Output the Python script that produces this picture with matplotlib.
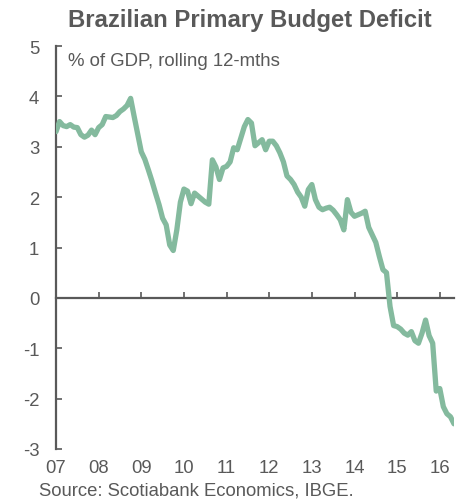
import matplotlib
matplotlib.use("Agg")
import matplotlib.pyplot as plt
import numpy as np

# Monthly primary budget balance (% of GDP, rolling 12 months), Jan 2007 - May 2016
deficit = [
    3.30, 3.50, 3.42, 3.40, 3.44, 3.39, 3.38, 3.24, 3.19, 3.23, 3.33, 3.24,   # 2007
    3.38, 3.44, 3.60, 3.59, 3.58, 3.62, 3.70, 3.75, 3.82, 3.96, 3.60, 3.25,   # 2008
    2.90, 2.75, 2.54, 2.32, 2.08, 1.85, 1.58, 1.45, 1.05, 0.94, 1.35, 1.90,   # 2009
    2.16, 2.12, 1.87, 2.08, 2.02, 1.96, 1.90, 1.86, 2.74, 2.60, 2.35, 2.58,   # 2010
    2.61, 2.70, 2.98, 2.94, 3.17, 3.40, 3.54, 3.47, 3.02, 3.08, 3.14, 2.94,   # 2011
    3.11, 3.11, 3.02, 2.88, 2.70, 2.42, 2.35, 2.25, 2.10, 2.00, 1.82, 2.15,   # 2012
    2.25, 1.95, 1.80, 1.75, 1.78, 1.80, 1.74, 1.65, 1.55, 1.35, 1.95, 1.70,   # 2013
    1.62, 1.65, 1.68, 1.72, 1.40, 1.25, 1.10, 0.82, 0.56, 0.50, -0.17, -0.55, # 2014
    -0.57, -0.62, -0.70, -0.74, -0.67, -0.85, -0.90, -0.70, -0.44, -0.75, -0.90, -1.85,  # 2015
    -1.80, -2.16, -2.30, -2.36, -2.50,                                          # 2016
]
year_labels = ["07", "08", "09", "10", "11", "12", "13", "14", "15", "16"]
y_ticks = [-3, -2, -1, 0, 1, 2, 3, 4, 5]

title = "Brazilian Primary Budget Deficit"
subtitle = "% of GDP, rolling 12-mths"
source = "Source: Scotiabank Economics, IBGE."

plt.rcParams['font.family'] = ['Liberation Sans', 'DejaVu Sans']
grey = "#595959"
line_col = "#84BA9E"

fig = plt.figure(figsize=(4.66, 5.02), dpi=100)
ax = fig.add_axes([56/466, 1-450/502, (454-56)/466, (450-47)/502])

months = np.arange(len(deficit))
ax.plot(months, deficit, color=line_col, lw=3.8, solid_joinstyle='round', solid_capstyle='round', zorder=3)

ax.set_xlim(0, len(deficit) - 1)
ax.set_ylim(-3, 5)

for s in ['top', 'right']:
    ax.spines[s].set_visible(False)
ax.spines['left'].set_color(grey)
ax.spines['left'].set_linewidth(1.6)
ax.spines['bottom'].set_position(('data', 0))
ax.spines['bottom'].set_color(grey)
ax.spines['bottom'].set_linewidth(1.6)
ax.spines['bottom'].set_zorder(2)

ax.set_yticks(y_ticks)
ax.set_yticklabels([str(v) for v in y_ticks])
ax.tick_params(axis='y', direction='in', length=4, width=1.2, color=grey,
               labelsize=13.3, labelcolor=grey, pad=12)

tick_pos = [12 * i for i in range(len(year_labels))]
ax.set_xticks(tick_pos)
ax.tick_params(axis='x', direction='in', length=4, width=1.2, color=grey,
               labelbottom=False)

sec = ax.secondary_xaxis(0.0)
sec.set_xticks(tick_pos)
sec.set_xticklabels(year_labels)
sec.tick_params(axis='x', length=0, labelsize=13.3, labelcolor=grey, pad=7)
sec.spines['bottom'].set_visible(False)

fig.text(250/466, 1-20/502, title, ha='center', va='center', fontsize=17.2,
         fontweight='bold', color=grey)
fig.text(68/466, 1-62/502, subtitle, ha='left', va='center',
         fontsize=13.4, color=grey)
fig.text(39/466, 1-491/502, source, ha='left', va='center', fontsize=13.3, color=grey)

fig.savefig("out.png", dpi=100)
